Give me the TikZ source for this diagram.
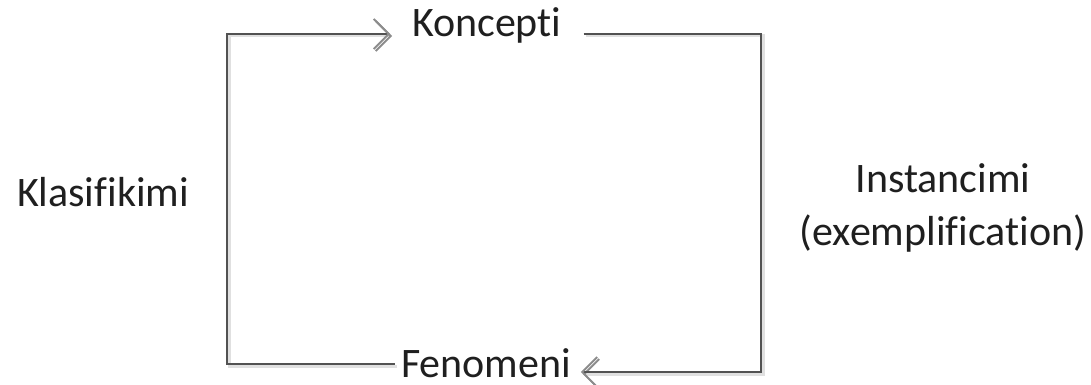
\documentclass[tikz,border=0pt]{standalone}
\usepackage{fontspec}
\setmainfont{Carlito}[Ligatures={NoCommon,NoContextual}]
\usetikzlibrary{arrows.meta}
\tikzset{
  lbl/.style={inner sep=0pt, outer sep=0pt, text=black!88,
    font=\fontsize{42}{53}\selectfont},
  link/.style={draw=black!68, line width=2.4pt, line join=miter,
    -{Straight Barb[length=15pt, width=30pt, line width=1.8pt, color=black!45]},
    preaction={draw=black!12, line width=3pt,
      transform canvas={shift={(2pt,-2pt)}}}},
}
\begin{document}
\begin{tikzpicture}[x=1pt, y=1pt]
  \useasboundingbox (0,0) rectangle (1091,-385);
  % labels
  \node[lbl, anchor=base west] (kon) at (412,-37) {Koncepti};
  \node[lbl, anchor=base west] (fen) at (401,-377) {Fenomeni};
  \node[lbl, anchor=base west] (klas) at (17,-206) {Klasifikimi};
  \node[lbl, align=center] (inst) at (943,-208) {Instancimi\\(exemplification)};
  % corners of the cycle
  \coordinate (tl) at (227,-34);
  \coordinate (tr) at (761,-34);
  \coordinate (br) at (761,-372);
  \coordinate (bl) at (227,-364);
  % classification: phenomenon -> concept
  \draw[link, shorten <=6pt, shorten >=22pt]
    (fen.west |- bl) -- (bl) -- (tl) -- (kon.west |- tl);
  % instantiation: concept -> phenomenon
  \draw[link, shorten <=22pt, shorten >=10pt]
    (kon.east |- tr) -- (tr) -- (br) -- (fen.east |- br);
\end{tikzpicture}
\end{document}
